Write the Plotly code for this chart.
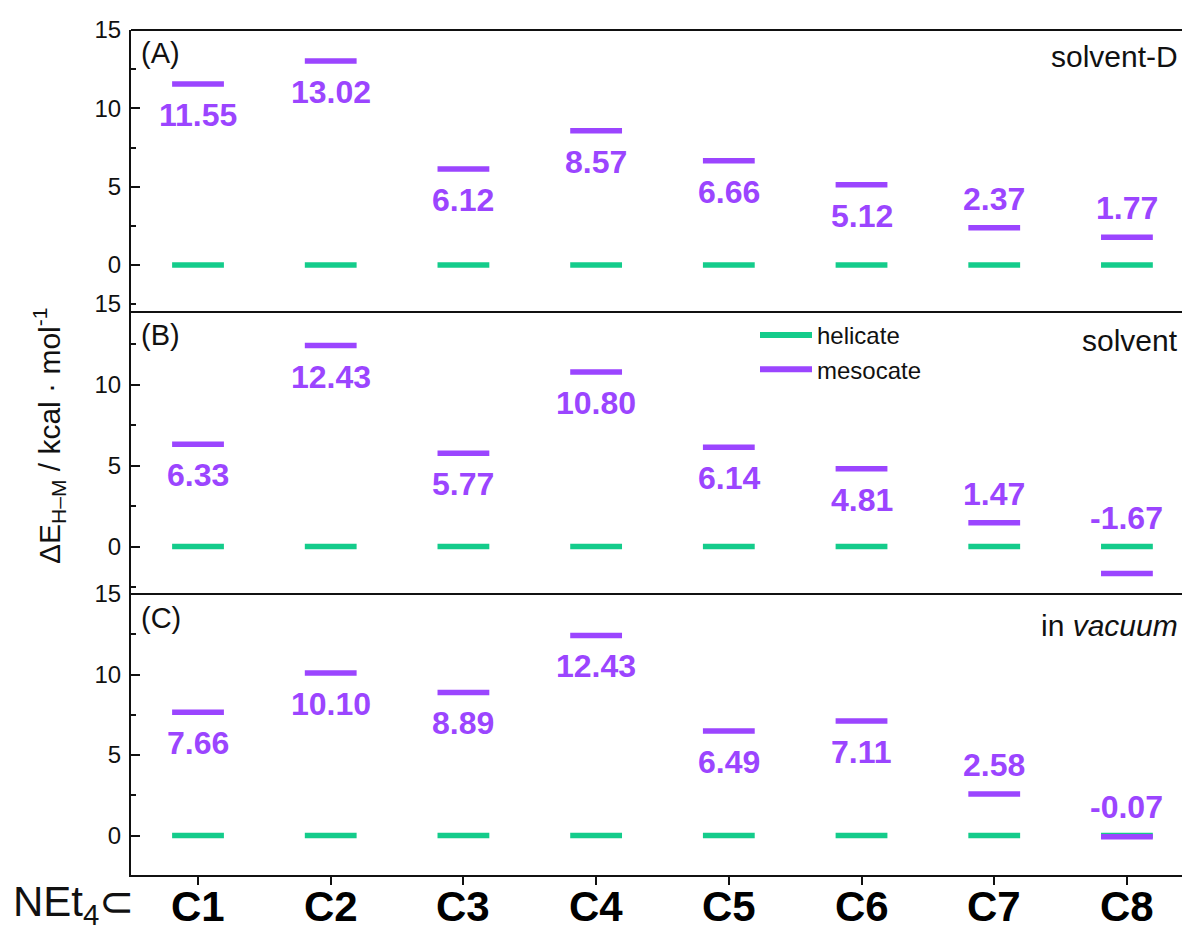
import plotly.graph_objects as go

# ---- data ----------------------------------------------------------------
categories = ["C1", "C2", "C3", "C4", "C5", "C6", "C7", "C8"]
category_pos = [1, 2, 3, 4, 5, 6, 7, 8]

helicate_A = [0.00, 0.00, 0.00, 0.00, 0.00, 0.00, 0.00, 0.00]
mesocate_A = [11.55, 13.02, 6.12, 8.57, 6.66, 5.12, 2.37, 1.77]

helicate_B = [0.00, 0.00, 0.00, 0.00, 0.00, 0.00, 0.00, 0.00]
mesocate_B = [6.33, 12.43, 5.77, 10.80, 6.14, 4.81, 1.47, -1.67]

helicate_C = [0.00, 0.00, 0.00, 0.00, 0.00, 0.00, 0.00, 0.00]
mesocate_C = [7.66, 10.10, 8.89, 12.43, 6.49, 7.11, 2.58, -0.07]

panel_tags = ["(A)", "(B)", "(C)"]
panel_conditions = ["solvent-D", "solvent", "in <i>vacuum</i>"]
ytick_vals = [0, 5, 10, 15]

# ---- styling -------------------------------------------------------------
W, H = 1182, 930
GREEN = "#14CC8B"
PURPLE = "#9B45FF"
FONT = "Liberation Sans, Arial, sans-serif"


def px_x(p):
    return p / W


def px_y(p):
    return 1 - p / H


# panel geometry (pixel rows) and y ranges
panels = [
    dict(top=30, bottom=312, yr=[-3, 15]),
    dict(top=304, bottom=595, yr=[-3, 15]),
    dict(top=594, bottom=875, yr=[-2.45, 15]),
]
frame_rows = [30, 312, 594, 875]
x_left = 131
x_domain = [px_x(x_left), 1.0]
x_range = [0.495, 8.415]

series = [
    (helicate_A, mesocate_A),
    (helicate_B, mesocate_B),
    (helicate_C, mesocate_C),
]

fig = go.Figure()

for k, (hel, mes) in enumerate(series):
    xa = "x" if k == 0 else f"x{k+1}"
    ya = "y" if k == 0 else f"y{k+1}"
    for vals, color in ((hel, GREEN), (mes, PURPLE)):
        fig.add_trace(go.Scatter(
            x=category_pos, y=vals, xaxis=xa, yaxis=ya,
            mode="markers", showlegend=False, hoverinfo="skip",
            marker=dict(symbol="line-ew", size=37,
                        line=dict(width=5.5, color=color)),
        ))

# legend entries (placed inside panel B)
for name, color in (("helicate", GREEN), ("mesocate", PURPLE)):
    fig.add_trace(go.Scatter(
        x=[None], y=[None], xaxis="x2", yaxis="y2", mode="lines",
        name=name, line=dict(color=color, width=6),
    ))

axis_common = dict(showgrid=False, zeroline=False, automargin=False)

layout = dict(
    width=W, height=H,
    margin=dict(l=0, r=0, t=0, b=0, autoexpand=False),
    paper_bgcolor="white", plot_bgcolor="rgba(0,0,0,0)",
    font=dict(family=FONT, color="#111111"),
    showlegend=True,
    legend=dict(
        x=px_x(755), y=px_y(313), xanchor="left", yanchor="top",
        bgcolor="rgba(0,0,0,0)", borderwidth=0,
        font=dict(family=FONT, size=24, color="#111111"),
        itemwidth=52, tracegroupgap=0,
    ),
)

for k, p in enumerate(panels):
    sfx = "" if k == 0 else str(k + 1)
    last = k == len(panels) - 1
    layout[f"xaxis{sfx}"] = dict(
        domain=x_domain, range=x_range, anchor=f"y{sfx}",
        tickvals=category_pos,
        showline=last, linecolor="#111111", linewidth=2,
        ticks="outside" if last else "", ticklen=8, tickwidth=2,
        tickcolor="#111111",
        showticklabels=False,
        **axis_common,
    )
    layout[f"yaxis{sfx}"] = dict(
        domain=[px_y(p["bottom"]), px_y(p["top"])], range=p["yr"],
        anchor=f"x{sfx}",
        tickvals=ytick_vals, ticks="inside", ticklen=9, tickwidth=2,
        tickcolor="#111111",
        minor=dict(tickvals=[-2.5, 2.5, 7.5, 12.5], ticks="inside",
                   ticklen=5, tickwidth=2, tickcolor="#111111"),
        tickfont=dict(family=FONT, size=24, color="#111111"),
        ticklabelstandoff=3,
        showline=True, linecolor="#111111", linewidth=2,
        **axis_common,
    )

fig.update_layout(**layout)

# frame rows across the stacked panels
for row in frame_rows[:-1]:
    fig.add_shape(type="line", xref="paper", yref="paper",
                  x0=px_x(x_left), x1=1.0, y0=px_y(row), y1=px_y(row),
                  line=dict(color="#111111", width=2))

annotations = []

# value labels for the mesocate levels
for k, (hel, mes) in enumerate(series):
    xa = "x" if k == 0 else f"x{k+1}"
    ya = "y" if k == 0 else f"y{k+1}"
    for xi, h, m in zip(category_pos, hel, mes):
        if m > 3:
            anchor_y, shift = m, -31
        else:
            anchor_y, shift = max(m, h), 29
        annotations.append(dict(
            x=xi, y=anchor_y, xref=xa, yref=ya, yshift=shift,
            text=f"{m:.2f}", showarrow=False,
            xanchor="center", yanchor="middle",
            font=dict(family=FONT, size=32, color=PURPLE, weight="bold"),
        ))

# category labels under the bottom panel
for xi, c in zip(category_pos, categories):
    annotations.append(dict(
        x=xi, y=px_y(906), xref="x3", yref="paper",
        text=f"<b>{c}</b>", showarrow=False,
        xanchor="center", yanchor="middle",
        font=dict(family=FONT, size=42, color="#000000"),
    ))

# panel tags and conditions
tag_rows = [53, 335, 618]
cond_rows = [57, 340, 625]
for tag, row in zip(panel_tags, tag_rows):
    annotations.append(dict(
        x=px_x(139), y=px_y(row), xref="paper", yref="paper",
        text=tag, showarrow=False, xanchor="left", yanchor="middle",
        font=dict(family=FONT, size=29, color="#111111"),
    ))
for cond, row in zip(panel_conditions, cond_rows):
    annotations.append(dict(
        x=px_x(1180), y=px_y(row), xref="paper", yref="paper",
        text=cond, showarrow=False, xanchor="right", yanchor="middle",
        font=dict(family=FONT, size=30, color="#111111"),
    ))

# y-axis title
annotations.append(dict(
    x=px_x(49), y=px_y(436), xref="paper", yref="paper",
    text="ΔE<sub>H–M</sub> / kcal · mol<sup>-1</sup>",
    showarrow=False, textangle=-90, xanchor="center", yanchor="middle",
    font=dict(family=FONT, size=30, color="#111111"),
))

# prefix before the category labels
annotations.append(dict(
    x=px_x(11), y=px_y(904), xref="paper", yref="paper",
    text="NEt<sub>4</sub>⊂", showarrow=False,
    xanchor="left", yanchor="middle",
    font=dict(family=FONT, size=42, color="#111111"),
))

fig.update_layout(annotations=annotations)

fig.write_html("out.html")
